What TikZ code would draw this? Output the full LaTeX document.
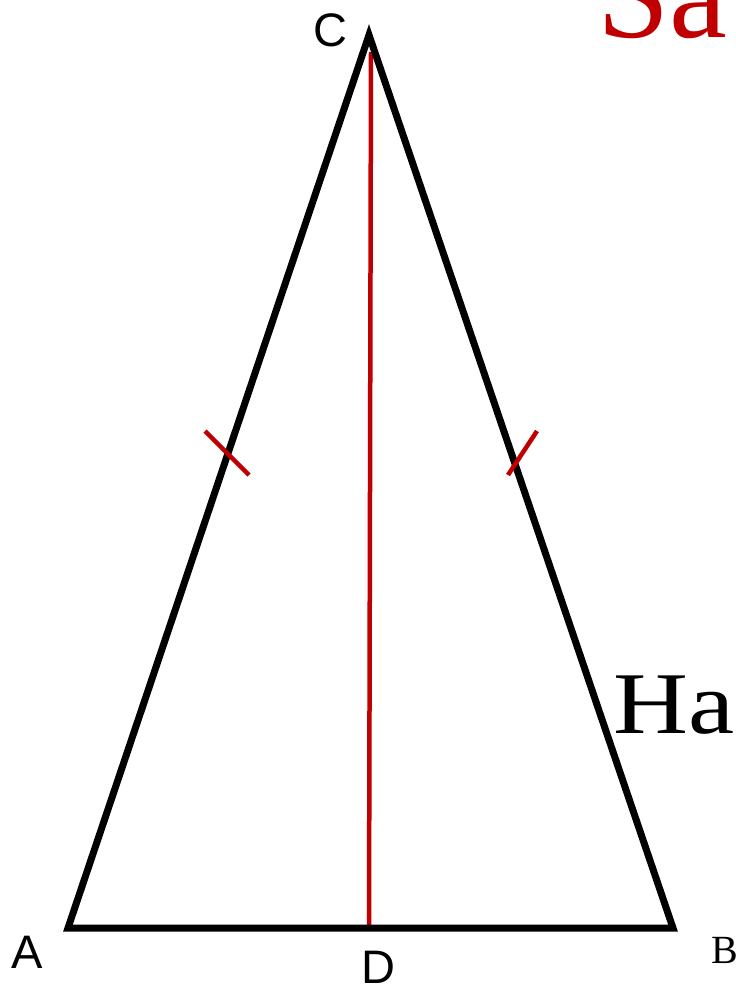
\documentclass[tikz,border=0pt]{standalone}
\usepackage{fontspec}
\setmainfont{Liberation Serif}
\newfontfamily\labsans{Liberation Sans}
\definecolor{myred}{HTML}{C00000}
\tikzset{
  side/.style={line width=7pt, line join=miter, draw=black},
  redline/.style={line width=4.5pt, draw=myred},
  lab/.style={inner sep=0pt, anchor=base west, font=\labsans\fontsize{47}{47}\selectfont},
  serifbig/.style={inner sep=0pt, anchor=base west}
}
\begin{document}
\begin{tikzpicture}[x=1pt,y=-1pt]
\useasboundingbox (0,0) rectangle (736,985);
\clip (0,0) rectangle (736,985);
\fill[white] (0,0) rectangle (736,985);
\coordinate (A) at (68,928);
\coordinate (B) at (673,928);
\coordinate (C) at (369,35);
\coordinate (D) at (369,928);
\coordinate (Ct) at (371,52);
\coordinate (t1a) at (205,431);
\coordinate (t1b) at (249,475);
\coordinate (t2a) at (537,431);
\coordinate (t2b) at (508,475);
\node[serifbig, text=myred, font=\fontsize{130}{130}\selectfont] (sa) at (597,37) {Sa};
\node[serifbig, font=\fontsize{88}{88}\selectfont] (ha) at (613,733) {\scalebox{1.18}[1]{Har}};
\node[serifbig, font=\fontsize{40}{40}\selectfont] (lb) at (711,963) {B};
\draw[redline] (Ct) -- (D);
\draw[side] (A) -- (B) -- (C) -- cycle;
\draw[redline] (t1a) -- (t1b);
\draw[redline] (t2a) -- (t2b);
\node[lab] (la) at (11,968) {A};
\node[lab] (lc) at (313,46) {C};
\node[lab] (ld) at (361,983) {D};
\end{tikzpicture}
\end{document}
